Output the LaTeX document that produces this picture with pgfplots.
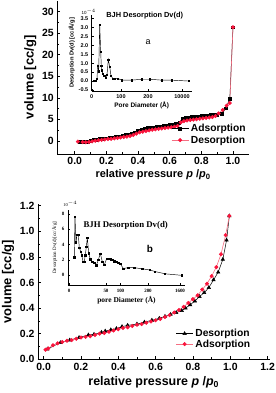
\documentclass[border=0pt]{standalone}
\usepackage{pgfplots}
\pgfplotsset{compat=1.18}
\usepackage{pgfplotstable}
\usepackage{fontspec}
\setmainfont{Liberation Sans}
\newfontfamily\tnr{Liberation Serif}
\definecolor{pinkline}{RGB}{245,110,130}
\definecolor{redmark}{RGB}{250,20,60}

\pgfplotstableread{
x y
0.03 -0.1
0.06 -0.2
0.08 -0.15
0.10 0.05
0.12 0.2
0.14 0.35
0.16 0.45
0.18 0.55
0.20 0.65
0.22 0.75
0.24 0.85
0.26 0.95
0.28 1.1
0.30 1.2
0.32 1.35
0.34 1.5
0.36 1.65
0.38 2.0
0.40 2.4
0.42 2.7
0.44 2.85
0.46 3.0
0.48 3.1
0.50 3.2
0.52 3.3
0.54 3.4
0.56 3.5
0.58 3.6
0.60 3.7
0.62 3.8
0.64 3.95
0.66 4.3
0.68 5.1
0.70 5.35
0.72 5.45
0.74 5.55
0.76 5.65
0.78 5.75
0.80 5.85
0.82 5.9
0.84 5.95
0.86 6.0
0.88 6.05
0.90 6.15
0.93 6.3
0.955 7.6
0.98 9.8
1.0 26.4
}\adsA

\pgfplotstableread{
x y
0.02 -0.15
0.05 -0.25
0.07 -0.3
0.09 -0.25
0.11 -0.1
0.13 0.05
0.15 0.15
0.17 0.25
0.19 0.35
0.21 0.45
0.23 0.5
0.25 0.6
0.27 0.7
0.29 0.8
0.31 0.9
0.33 1.0
0.35 1.15
0.37 1.4
0.39 1.7
0.41 2.0
0.43 2.15
0.45 2.3
0.47 2.45
0.49 2.6
0.51 2.7
0.53 2.8
0.55 2.9
0.57 3.0
0.59 3.1
0.61 3.2
0.63 3.3
0.65 3.5
0.67 4.3
0.69 4.6
0.71 4.75
0.73 4.85
0.75 4.95
0.77 5.05
0.79 5.15
0.81 5.25
0.83 5.35
0.85 5.45
0.87 5.55
0.89 5.8
0.91 6.4
0.935 7.2
0.96 8.2
0.98 8.8
1.0 26.4
}\desA

\pgfplotstableread{
u v
2.6 0.0
4.3 0.0
5.3 0.15
6.0 0.85
7.0 0.55
8.0 3.15
9.0 1.65
9.6 0.85
10.3 0.6
11.3 0.4
12.6 0.3
14.0 0.2
15.3 0.35
16.6 1.2
18.0 0.8
19.3 0.3
21.0 0.15
23.3 0.15
26.0 0.15
30.0 0.05
40.0 0.05
50.0 0.1
58.3 0.1
70.0 0.05
80.0 0.05
97.0 0.0
}\insA

\pgfplotstableread{
x y
0.02 0.08
0.09 0.13
0.14 0.15
0.19 0.17
0.24 0.19
0.27 0.195
0.31 0.21
0.33 0.22
0.36 0.23
0.39 0.24
0.42 0.255
0.45 0.265
0.50 0.275
0.54 0.29
0.58 0.305
0.62 0.32
0.65 0.335
0.68 0.35
0.71 0.365
0.74 0.38
0.76 0.40
0.785 0.425
0.81 0.455
0.835 0.49
0.86 0.52
0.885 0.56
0.91 0.62
0.935 0.68
0.96 0.78
0.98 0.93
0.995 1.12
}\desB

\pgfplotstableread{
x y
0.01 0.075
0.025 0.085
0.05 0.11
0.075 0.125
0.10 0.135
0.125 0.145
0.15 0.15
0.175 0.16
0.20 0.17
0.225 0.175
0.25 0.18
0.275 0.19
0.30 0.20
0.325 0.205
0.35 0.215
0.375 0.225
0.40 0.235
0.425 0.245
0.45 0.25
0.475 0.26
0.50 0.27
0.525 0.275
0.55 0.285
0.575 0.295
0.60 0.305
0.625 0.315
0.65 0.33
0.675 0.345
0.70 0.365
0.725 0.385
0.75 0.41
0.775 0.44
0.80 0.47
0.825 0.50
0.85 0.545
0.875 0.59
0.90 0.65
0.925 0.72
0.95 0.82
0.975 0.97
0.995 1.12
}\adsB

\pgfplotstableread{
u v
5.3 2.35
6.0 7.65
7.0 4.3
8.0 5.3
9.3 5.3
10.3 3.6
11.7 3.1
12.7 2.65
14.0 1.8
15.3 1.8
16.3 2.65
17.3 3.7
18.3 4.9
19.7 2.9
21.3 2.1
23.3 1.8
25.3 1.65
27.3 1.3
29.3 2.0
31.3 2.85
33.3 1.8
35.3 1.35
37.7 2.2
40.0 2.2
42.0 2.1
43.7 2.0
45.3 1.85
47.3 1.8
49.3 1.65
51.3 1.5
54.3 0.9
59.3 1.0
65.3 1.0
73.3 0.85
80.7 0.7
86.0 0.5
96.0 0.2
112.7 0.0
}\insB

\pgfplotsset{
  mainax/.style={
    scale only axis, anchor=south west,
    axis x line*=bottom, axis y line*=left,
    tick align=inside, major tick length=3bp, minor tick length=1.8bp,
    tick style={black, line width=0.6pt},
    axis line style={line width=0.7pt},
    /pgf/number format/assume math mode=true,
    ticklabel style={font=\fontsize{10.5}{10.5}\selectfont\bfseries},
    minor x tick num=1, minor y tick num=1,
    legend cell align=left,
  },
  insax/.style={
    scale only axis, anchor=south west,
    axis x line*=bottom, axis y line*=left,
    tick align=inside, major tick length=2bp, minor tick length=1.2bp,
    tick style={black, line width=0.4pt},
    axis line style={line width=0.5pt},
    /pgf/number format/assume math mode=true,
    clip=false,
  },
}

\begin{document}
\begin{tikzpicture}
\useasboundingbox (0,0) rectangle (276bp,393bp);

% ---------- top main ----------
\begin{axis}[mainax,
  at={(57.3bp,239.1bp)}, width=191.5bp, height=153bp,
  xmin=-0.11, xmax=1.1, ymin=-3, ymax=32.5,
  xtick={0,0.2,...,1.0}, ytick={0,5,...,30},
  xticklabel style={/pgf/number format/.cd, fixed, fixed zerofill, precision=1},
  xlabel={relative pressure \textit{p} /\textit{p}\textsubscript{0}},
  ylabel={volume [cc/g]},
  xlabel style={font=\fontsize{11}{11}\selectfont\bfseries, yshift=2bp},
  ylabel style={font=\fontsize{13}{13}\selectfont\bfseries, yshift=-1bp},
  legend style={draw=none, fill=none, at={(rel axis cs:1.0,0.215)}, anchor=north east,
    font=\fontsize{10.3}{10.3}\selectfont\bfseries, row sep=-1.5bp, inner sep=1bp},
]
\addplot[black, line width=0.5pt, mark=square*, mark size=1.4bp] table[x=x,y=y]{\adsA};
\addlegendentry{Adsorption}
\addplot[pinkline, line width=0.6pt, mark=*, mark size=1.7bp, mark options={fill=redmark, draw=redmark}] table[x=x,y=y]{\desA};
\addlegendentry{Desorption}
\end{axis}

% ---------- top inset ----------
\begin{axis}[insax,
  at={(91.7bp,302.1bp)}, width=100bp, height=76.1bp,
  xmin=0, xmax=100, ymin=-0.55, ymax=3.7,
  xtick={0,29.3,56.3,90.3}, xticklabels={0,100,200,10000},
  ytick={-0.5,0,...,3.5},
  ticklabel style={font=\fontsize{5.5}{5.5}\selectfont\bfseries},
  yticklabel style={/pgf/number format/.cd, fixed, fixed zerofill, precision=1},
  xlabel={Pore Diameter (Å)},
  ylabel={Desorption Dv(d) [cc/Å/g]},
  xlabel style={font=\fontsize{6.5}{6.5}\selectfont\bfseries, yshift=3bp},
  ylabel style={font=\fontsize{5.8}{5.8}\selectfont\bfseries, yshift=-3bp},
]
\addplot[black, line width=0.45pt, mark=square*, mark size=0.6bp] table[x=u,y=v]{\insA};
\node[font=\fontsize{7.4}{7.4}\selectfont\bfseries] at (rel axis cs:0.53,0.99) {BJH Desorption Dv(d)};
\node[font=\fontsize{9}{9}\selectfont] at (rel axis cs:0.563,0.646) {a};
\node[font=\fontsize{4.5}{4.5}\selectfont] at (rel axis cs:-0.03,1.04) {10\textsuperscript{$-4$}};
\end{axis}

% ---------- bottom main ----------
\begin{axis}[mainax,
  at={(38bp,33.7bp)}, width=231.5bp, height=154.9bp,
  xmin=-0.03, xmax=1.21, ymin=0, ymax=1.21,
  xtick={0,0.2,...,1.2}, ytick={0,0.2,...,1.2},
  ticklabel style={/pgf/number format/.cd, fixed, fixed zerofill, precision=1},
  xlabel={relative pressure \textit{p} /\textit{p}\textsubscript{0}},
  ylabel={volume [cc/g]},
  xlabel style={font=\fontsize{12.5}{12.5}\selectfont\bfseries, yshift=1bp},
  ylabel style={font=\fontsize{13}{13}\selectfont\bfseries, yshift=-1bp},
  legend style={draw=none, fill=none, at={(rel axis cs:0.93,0.215)}, anchor=north east,
    font=\fontsize{10.3}{10.3}\selectfont\bfseries, row sep=-2.5bp, inner sep=1bp},
]
\addplot[black, line width=0.5pt, mark=triangle*, mark size=2bp] table[x=x,y=y]{\desB};
\addlegendentry{Desorption}
\addplot[pinkline, line width=0.6pt, mark=*, mark size=1.7bp, mark options={fill=redmark, draw=redmark}] table[x=x,y=y]{\adsB};
\addlegendentry{Adsorption}
\end{axis}

% ---------- bottom inset ----------
\begin{axis}[insax,
  at={(68bp,107.7bp)}, width=117bp, height=75.1bp,
  xmin=-1, xmax=116, ymin=-1.3, ymax=8.5,
  xtick={0,37,51.5,79,111}, xticklabels={0,50,100,200,1600},
  ytick={0,2,...,8},
  ticklabel style={font=\tnr\fontsize{5}{5}\selectfont\bfseries},
  xlabel={pore Diameter (Å)},
  ylabel={Desorption Dv(d)[cc/Å/g]},
  xlabel style={font=\tnr\fontsize{7.5}{7.5}\selectfont\bfseries, yshift=3bp},
  ylabel style={font=\tnr\fontsize{5}{5}\selectfont, yshift=-2bp},
]
\addplot[black, line width=0.45pt, mark=square*, mark size=0.7bp] table[x=u,y=v]{\insB};
\node[font=\tnr\fontsize{8.8}{8.8}\selectfont\bfseries] at (rel axis cs:0.493,0.80) {BJH Desorption Dv(d)};
\node[font=\fontsize{10}{10}\selectfont\bfseries] at (rel axis cs:0.70,0.49) {b};
\node[font=\tnr\fontsize{4.5}{4.5}\selectfont] at (rel axis cs:0.02,1.08) {10\textsuperscript{$-4$}};
\end{axis}
\end{tikzpicture}
\end{document}
